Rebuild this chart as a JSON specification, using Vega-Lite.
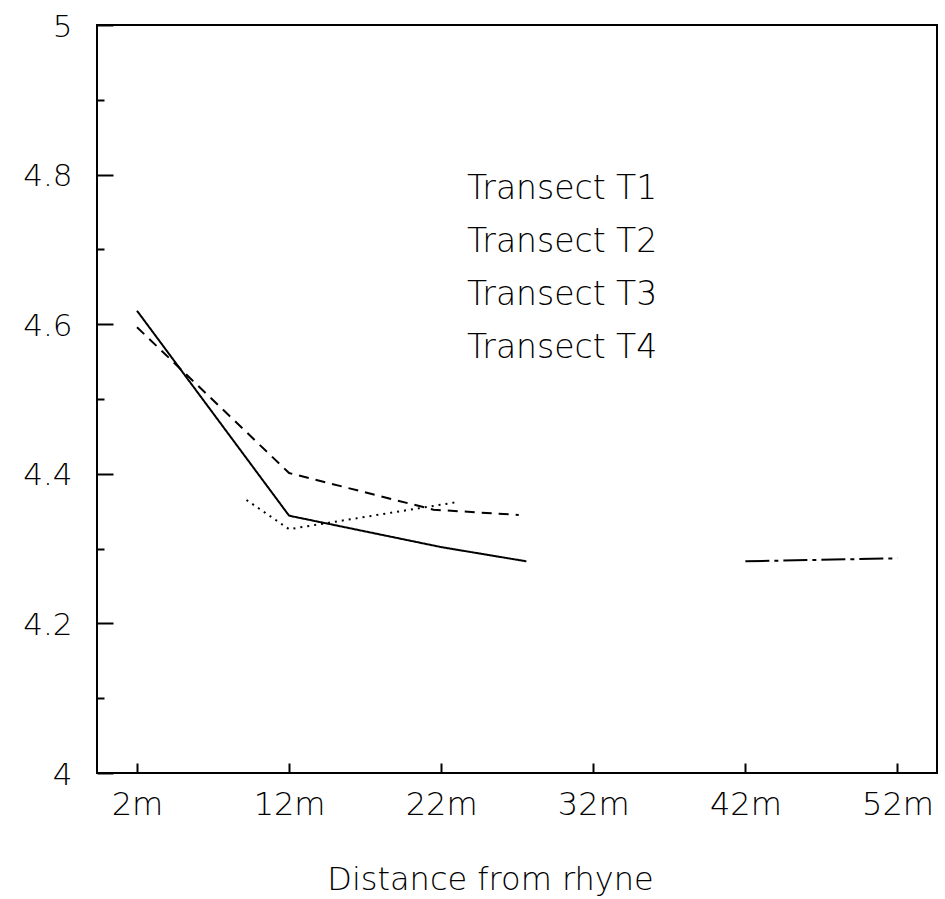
{
  "$schema": "https://vega.github.io/schema/vega-lite/v6.json",
  "width": 840,
  "height": 748,
  "autosize": {"type": "none"},
  "padding": {"left": 97, "top": 25, "right": 8, "bottom": 126},
  "background": "white",
  "config": {
    "view": {"stroke": "black", "strokeWidth": 2},
    "font": "DejaVu Sans",
    "axis": {"grid": false, "domain": false, "tickColor": "black", "tickWidth": 2, "labelColor": "black", "titleColor": "black", "labelFont": "DejaVu Sans", "titleFont": "DejaVu Sans", "labelFontWeight": 200, "titleFontWeight": 200}
  },
  "data": {
    "values": [
      {"transect": "Transect T1", "distance": 2, "value": 4.618},
      {"transect": "Transect T1", "distance": 12, "value": 4.344},
      {"transect": "Transect T1", "distance": 22, "value": 4.302},
      {"transect": "Transect T1", "distance": 27.6, "value": 4.283},
      {"transect": "Transect T2", "distance": 2, "value": 4.596},
      {"transect": "Transect T2", "distance": 12, "value": 4.401},
      {"transect": "Transect T2", "distance": 21.5, "value": 4.352},
      {"transect": "Transect T2", "distance": 27.1, "value": 4.345},
      {"transect": "Transect T3", "distance": 9.2, "value": 4.365},
      {"transect": "Transect T3", "distance": 12, "value": 4.326},
      {"transect": "Transect T3", "distance": 23, "value": 4.362},
      {"transect": "Transect T4", "distance": 42, "value": 4.283},
      {"transect": "Transect T4", "distance": 52, "value": 4.287}
    ]
  },
  "mark": {"type": "line", "color": "black", "strokeWidth": 2},
  "encoding": {
    "x": {
      "field": "distance",
      "type": "quantitative",
      "scale": {"domain": [-0.63, 54.6], "nice": false, "zero": false},
      "axis": {
        "values": [2, 12, 22, 32, 42, 52],
        "labelExpr": "datum.value + 'm'",
        "offset": -10,
        "tickSize": 10,
        "labelPadding": 16,
        "labelBaseline": "top",
        "labelFontSize": 32,
        "title": "Distance from rhyne",
        "titleFontSize": 32,
        "titlePadding": 44,
        "titleX": 393
      }
    },
    "y": {
      "field": "value",
      "type": "quantitative",
      "scale": {"domain": [4, 5], "nice": false, "zero": false},
      "axis": {
        "values": [4, 4.1, 4.2, 4.3, 4.4, 4.5, 4.6, 4.7, 4.8, 4.9, 5],
        "format": "~g",
        "labelExpr": "round(datum.value * 10) % 2 == 0 ? datum.label : ''",
        "offset": -16,
        "tickSize": 16,
        "tickDash": {"condition": {"test": "round(datum.value * 10) % 2 == 0", "value": [16, 0]}, "value": [0, 9, 7, 0]},
        "labelPadding": 25,
        "labelFontSize": 31,
        "labelOffset": 2,
        "title": null
      }
    },
    "strokeDash": {
      "field": "transect",
      "type": "nominal",
      "scale": {
        "domain": ["Transect T1", "Transect T2", "Transect T3", "Transect T4"],
        "range": [[1, 0], [10, 7], [2, 5], [24, 5, 4, 5]]
      },
      "legend": {
        "orient": "none",
        "legendX": 337,
        "legendY": 147,
        "title": null,
        "labelFontSize": 33,
        "labelFont": "DejaVu Sans",
        "labelFontWeight": 200,
        "labelColor": "black",
        "labelLimit": 0,
        "symbolOpacity": 0,
        "symbolSize": 0,
        "labelOffset": 0,
        "rowPadding": 19
      }
    },
    "detail": {"field": "transect"}
  }
}
